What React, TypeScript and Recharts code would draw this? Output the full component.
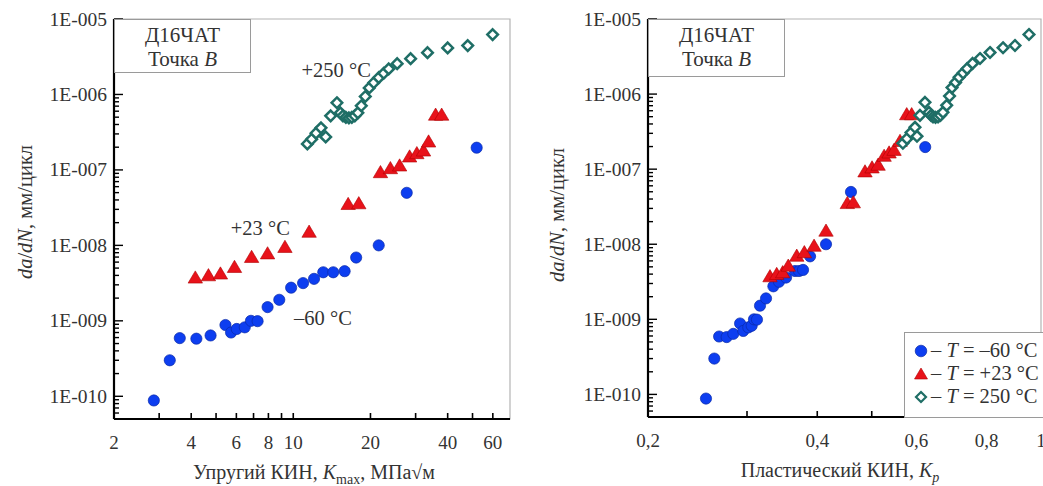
import React from 'react';
import { ScatterChart, Scatter, XAxis, YAxis, ReferenceArea, ReferenceDot, Legend } from 'recharts';

// ---- data: da/dN (mm/cycle) shared by both panels; Kmax (left) and Kp (right) ----
const rateM60 = [8.8e-11, 3.0e-10, 5.9e-10, 5.8e-10, 6.4e-10, 8.8e-10, 7.0e-10, 7.8e-10, 8.2e-10, 1.0e-9, 9.9e-10, 1.52e-9, 1.9e-9, 2.75e-9, 3.16e-9, 3.6e-9, 4.4e-9, 4.4e-9, 4.55e-9, 6.9e-9, 1.0e-8, 4.97e-8, 1.97e-7];
const kmaxM60 = [2.86, 3.3, 3.61, 4.19, 4.76, 5.44, 5.72, 6.02, 6.47, 6.84, 7.26, 7.94, 8.82, 9.81, 10.92, 12.05, 13.09, 14.32, 15.86, 17.59, 21.54, 27.7, 51.9];
const kpM60 = [0.2536, 0.2624, 0.2676, 0.276, 0.2836, 0.2916, 0.2954, 0.3016, 0.3058, 0.3087, 0.3125, 0.3164, 0.3243, 0.3342, 0.342, 0.352, 0.3652, 0.3712, 0.3774, 0.3884, 0.4146, 0.4592, 0.6224];

const rate23 = [3.73e-9, 4.0e-9, 4.22e-9, 5.16e-9, 7.0e-9, 7.8e-9, 9.5e-9, 1.51e-8, 3.52e-8, 3.6e-8, 9.3e-8, 1.05e-7, 1.14e-7, 1.5e-7, 1.66e-7, 1.8e-7, 2.37e-7, 5.37e-7, 5.37e-7];
const kmax23 = [4.15, 4.67, 5.2, 5.9, 6.88, 7.94, 9.28, 11.53, 16.37, 18.01, 21.88, 23.92, 25.98, 28.42, 30.33, 32.2, 33.7, 35.9, 37.9];
const kp23 = [0.3296, 0.3388, 0.3472, 0.3552, 0.3678, 0.3794, 0.3948, 0.4146, 0.4524, 0.4636, 0.4864, 0.5006, 0.5132, 0.526, 0.5368, 0.5478, 0.5614, 0.577, 0.5888];

const rate250 = [2.21e-7, 2.55e-7, 3.07e-7, 3.61e-7, 2.74e-7, 5.21e-7, 7.76e-7, 5.71e-7, 5.21e-7, 4.97e-7, 4.9e-7, 4.97e-7, 5.21e-7, 5.71e-7, 7.08e-7, 9.4e-7, 1.22e-6, 1.43e-6, 1.67e-6, 1.91e-6, 2.18e-6, 2.56e-6, 2.98e-6, 3.58e-6, 4.14e-6, 4.44e-6, 6.22e-6];
const kmax250 = [11.35, 11.8, 12.27, 12.83, 13.38, 13.99, 14.8, 15.27, 15.62, 16.04, 16.48, 16.92, 17.38, 17.86, 18.42, 19.09, 19.78, 20.6, 21.54, 22.53, 23.56, 25.42, 28.68, 33.38, 40.0, 47.9, 59.9];
const kp250 = [0.568, 0.5776, 0.5872, 0.5968, 0.6018, 0.6092, 0.6218, 0.6322, 0.6374, 0.6426, 0.6492, 0.656, 0.6626, 0.6694, 0.6796, 0.6876, 0.6946, 0.7048, 0.715, 0.7268, 0.7388, 0.7556, 0.779, 0.8116, 0.856, 0.899, 0.952];

// ---- axes ----
const yDomain = [5e-11, 1e-5];
const yMajorTicks = [1e-10, 1e-9, 1e-8, 1e-7, 1e-6, 1e-5];
const yTickLabels = ['1E-010', '1E-009', '1E-008', '1E-007', '1E-006', '1E-005'];
const yDecades = [1e-11, 1e-10, 1e-9, 1e-8, 1e-7, 1e-6, 1e-5];
const yMults = [1, 2, 3, 4, 5, 6, 7, 8, 9];

const xDomainLeft = [2, 70];
const xTicksLeft = [2, 3, 4, 5, 6, 7, 8, 9, 10, 20, 30, 40, 50, 60];
const xLabeledLeft = [2, 4, 6, 8, 10, 20, 40, 60];
const xLabelsLeft = ['2', '4', '6', '8', '10', '20', '40', '60'];

const xDomainRight = [0.2, 1];
const xTicksRight = [0.2, 0.3, 0.4, 0.5, 0.6, 0.7, 0.8, 0.9, 1];
const xLabeledRight = [0.2, 0.4, 0.6, 0.8, 1];
const xLabelsRight = ['0,2', '0,4', '0,6', '0,8', '1'];

// annotation texts on the left panel (data coords)
const annotations = [
  { text: '+250 °C', x: 14.7, y: 2.13e-6 },
  { text: '+23 °C', x: 7.44, y: 1.69e-8 },
  { text: '\u201360 °C', x: 13.06, y: 1.11e-9 },
];

const legendRows = [
  { kind: 'circle', value: '\u201360 °C' },
  { kind: 'tri', value: '+23 °C' },
  { kind: 'diamond', value: '250 °C' },
];

const BLUE = '#0d3ef0';
const BLUE_D = '#0a2aa8';
const RED = '#e8121a';
const RED_D = '#b00000';
const TEAL = '#1f6e66';
const TXT = '#333';
const FONT = 'Liberation Serif, DejaVu Serif, serif';

const yTicks = yDecades
  .flatMap((d) => yMults.map((m) => m * d))
  .filter((v) => v >= yDomain[0] * 0.999 && v <= yDomain[1] * 1.001);

const zip = (xs: number[], ys: number[]) => xs.map((x, i) => ({ x, y: ys[i] }));

const near = (a: number, b: number) => Math.abs(Math.log10(a) - Math.log10(b)) < 1e-6;

const YTick = (props: any) => {
  const { x, y, payload } = props;
  const idx = yMajorTicks.findIndex((t) => near(t, payload.value));
  const major = idx >= 0;
  return (
    <g>
      <line x1={x} x2={x + (major ? 9 : 5)} y1={y} y2={y} stroke="#000" strokeWidth={1.4} />
      {major && (
        <text x={x - 7} y={y} dy={6.5} textAnchor="end" fontSize={19.5} style={{ fontFamily: FONT }} fill={TXT}>
          {yTickLabels[idx]}
        </text>
      )}
    </g>
  );
};

const makeXTick = (labeled: number[], labels: string[]) => (props: any) => {
  const { x, y, payload } = props;
  const idx = labeled.findIndex((t) => near(t, payload.value));
  return (
    <g>
      <line x1={x} x2={x} y1={y} y2={y - 6} stroke="#000" strokeWidth={1.6} />
      {idx >= 0 && (
        <text x={x} y={y + 30} textAnchor="middle" fontSize={19} style={{ fontFamily: FONT }} fill={TXT}>
          {labels[idx]}
        </text>
      )}
    </g>
  );
};

const XTickLeft = makeXTick(xLabeledLeft, xLabelsLeft);
const XTickRight = makeXTick(xLabeledRight, xLabelsRight);

const CircleShape = (p: any) => <circle cx={p.cx} cy={p.cy} r={5.6} fill={BLUE} stroke={BLUE_D} strokeWidth={0.7} />;
const TriShape = (p: any) => {
  const { cx, cy } = p;
  return <polygon points={`${cx},${cy - 6.8} ${cx - 7.2},${cy + 5.4} ${cx + 7.2},${cy + 5.4}`} fill={RED} stroke={RED_D} strokeWidth={0.6} />;
};
const DiamondShape = (p: any) => {
  const { cx, cy } = p;
  const s = 5.3;
  return <polygon points={`${cx},${cy - s} ${cx + s},${cy} ${cx},${cy + s} ${cx - s},${cy}`} fill="#fff" stroke={TEAL} strokeWidth={2.5} />;
};

const InfoBox = ({ left, top, width, height }: any) => (
  <div
    style={{
      position: 'absolute', left, top, width, height, boxSizing: 'border-box',
      border: '1px solid #9a9a9a', background: '#fff', fontFamily: FONT, fontSize: 21, color: TXT,
      textAlign: 'center', lineHeight: '24px', paddingTop: 3,
    }}
  >
    <div>Д16ЧАТ</div>
    <div>Точка <i>B</i></div>
  </div>
);

const LegendMarker = ({ kind }: { kind: string }) => (
  <svg width={18} height={18} style={{ display: 'block' }}>
    {kind === 'circle' && <circle cx={9} cy={9} r={5.8} fill={BLUE} stroke={BLUE_D} strokeWidth={0.7} />}
    {kind === 'tri' && <polygon points="9,3 2.5,14 15.5,14" fill={RED} stroke={RED_D} strokeWidth={0.6} />}
    {kind === 'diamond' && <polygon points="9,4 14,9 9,14 4,9" fill="#fff" stroke={TEAL} strokeWidth={2.2} />}
  </svg>
);

const LegendContent = () => (
  <div
    style={{
      width: 150, height: 86, boxSizing: 'border-box', border: '1px solid #9a9a9a', background: '#fff',
      fontFamily: FONT, fontSize: 20.5, color: TXT, paddingTop: 6,
    }}
  >
    {legendRows.map((r) => (
      <div key={r.kind} style={{ display: 'flex', alignItems: 'center', height: 23, whiteSpace: 'nowrap' }}>
        <div style={{ width: 7 }} />
        <LegendMarker kind={r.kind} />
        <span style={{ marginLeft: 1 }}>
          {'\u2013 '}<i>T</i>{' = ' + r.value}
        </span>
      </div>
    ))}
  </div>
);

const YTitle = ({ cx, cy }: any) => (
  <div
    style={{
      position: 'absolute', left: cx - 150, top: cy - 13, width: 300, height: 26, lineHeight: '26px',
      textAlign: 'center', transform: 'rotate(-90deg)', fontFamily: FONT, fontSize: 20.5, color: TXT, whiteSpace: 'nowrap',
    }}
  >
    <i>da</i>/<i>dN</i>, мм/цикл
  </div>
);

const XTitle = ({ cx, cy, children }: any) => (
  <div
    style={{
      position: 'absolute', left: cx - 200, top: cy - 13, width: 400, height: 26, lineHeight: '26px',
      textAlign: 'center', fontFamily: FONT, fontSize: 20, color: TXT, whiteSpace: 'nowrap',
    }}
  >
    {children}
  </div>
);

export default function App() {
  const m60L = zip(kmaxM60, rateM60);
  const p23L = zip(kmax23, rate23);
  const p250L = zip(kmax250, rate250);
  const m60R = zip(kpM60, rateM60);
  const p23R = zip(kp23, rate23);
  const p250R = zip(kp250, rate250);

  return (
    <div style={{ position: 'absolute', left: 0, top: 0, width: 1043, height: 486, background: '#fff', overflow: 'hidden', fontFamily: FONT }}>
      <div style={{ position: 'absolute', left: 0, top: 0 }}>
        <ScatterChart width={520} height={486} margin={{ top: 19, right: 10, bottom: 0, left: 0 }}>
          <ReferenceArea x1={xDomainLeft[0]} x2={xDomainLeft[1]} y1={yDomain[0]} y2={yDomain[1]} fill="none" stroke="#b4b4b4" strokeWidth={1.2} ifOverflow="visible" />
          <XAxis
            type="number" dataKey="x" scale="log" domain={xDomainLeft} ticks={xTicksLeft} interval={0}
            allowDataOverflow tickLine={false} tickSize={0} tickMargin={0} height={67}
            axisLine={{ stroke: '#000', strokeWidth: 2.2 }} tick={<XTickLeft />}
          />
          <YAxis
            type="number" dataKey="y" scale="log" domain={yDomain} ticks={yTicks} interval={0}
            allowDataOverflow tickLine={false} tickSize={0} tickMargin={0} width={114}
            axisLine={{ stroke: '#000', strokeWidth: 2.2 }} tick={<YTick />}
          />
          <Scatter data={m60L} shape={CircleShape} isAnimationActive={false} />
          <Scatter data={p23L} shape={TriShape} isAnimationActive={false} />
          <Scatter data={p250L} shape={DiamondShape} isAnimationActive={false} />
          {annotations.map((a) => (
            <ReferenceDot
              key={a.text} x={a.x} y={a.y} r={0} fill="none" stroke="none" ifOverflow="visible"
              label={{ value: a.text, position: 'center', fontSize: 20.5, style: { fontFamily: FONT }, fill: TXT }}
            />
          ))}
        </ScatterChart>
        <InfoBox left={114} top={19} width={137} height={54} />
        <YTitle cx={25} cy={212} />
        <XTitle cx={314} cy={472}>
          Упругий КИН, <i>K</i><sub style={{ fontSize: 14 }}>max</sub>, МПа√м
        </XTitle>
      </div>
      <div style={{ position: 'absolute', left: 520, top: 0 }}>
        <ScatterChart width={523} height={486} margin={{ top: 19, right: 2, bottom: 0, left: 0 }}>
          <ReferenceArea x1={xDomainRight[0]} x2={xDomainRight[1]} y1={yDomain[0]} y2={yDomain[1]} fill="none" stroke="#b4b4b4" strokeWidth={1.2} ifOverflow="visible" />
          <XAxis
            type="number" dataKey="x" scale="log" domain={xDomainRight} ticks={xTicksRight} interval={0}
            allowDataOverflow tickLine={false} tickSize={0} tickMargin={0} height={69}
            axisLine={{ stroke: '#000', strokeWidth: 2.2 }} tick={<XTickRight />}
          />
          <YAxis
            type="number" dataKey="y" scale="log" domain={yDomain} ticks={yTicks} interval={0}
            allowDataOverflow tickLine={false} tickSize={0} tickMargin={0} width={128}
            axisLine={{ stroke: '#000', strokeWidth: 2.2 }} tick={<YTick />}
          />
          <Scatter name="m60" data={m60R} shape={CircleShape} isAnimationActive={false} />
          <Scatter name="p23" data={p23R} shape={TriShape} isAnimationActive={false} />
          <Scatter name="p250" data={p250R} shape={DiamondShape} isAnimationActive={false} />
          <Legend
            layout="vertical" align="center" verticalAlign="middle"
            wrapperStyle={{ left: 384, top: 332, width: 150, height: 86 }}
            content={() => <LegendContent />}
          />
        </ScatterChart>
        <InfoBox left={128} top={19} width={137} height={58} />
        <YTitle cx={37} cy={215} />
        <XTitle cx={320} cy={470}>
          Пластический КИН, <i>K<sub style={{ fontSize: 14 }}>p</sub></i>
        </XTitle>
      </div>
    </div>
  );
}
